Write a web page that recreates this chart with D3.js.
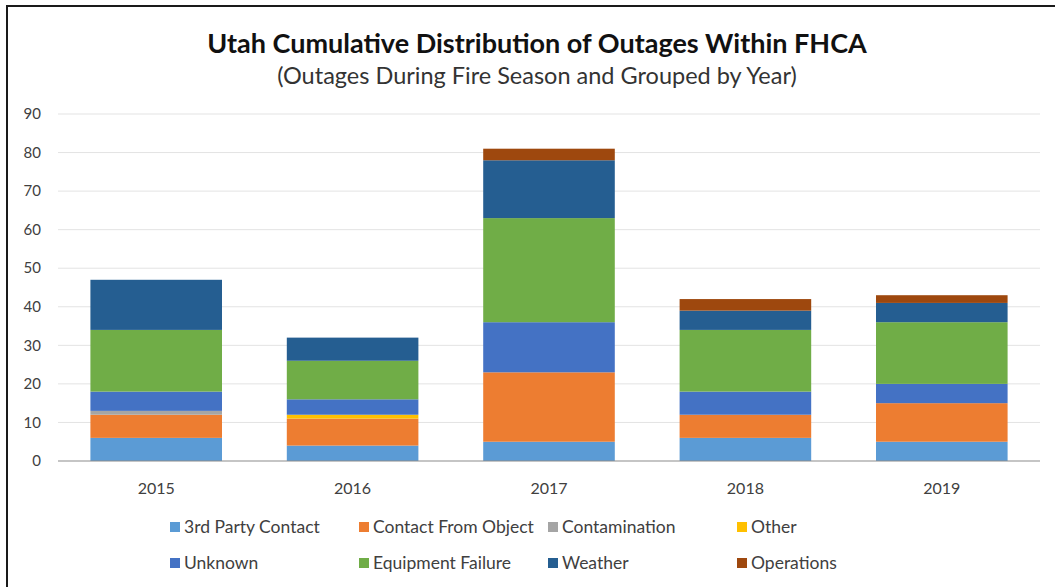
<!DOCTYPE html>
<html>
<head>
<meta charset="utf-8">
<script src="https://cdn.jsdelivr.net/npm/d3@7"></script>
<style>
  html, body { margin: 0; padding: 0; background: #fff; }
  svg { display: block; font-family: Lato, "Open Sans", sans-serif; }
</style>
</head>
<body>
<div id="chart"></div>
<script>
(function () {
  "use strict";

  var years = ["2015", "2016", "2017", "2018", "2019"];
  var causes = ["3rd Party Contact", "Contact From Object", "Contamination", "Other",
                "Unknown", "Equipment Failure", "Weather", "Operations"];
  var colors = ["#5b9bd5", "#ed7d31", "#a5a5a5", "#ffc000",
                "#4472c4", "#70ad47", "#255e91", "#9e480e"];

  // one list per cause, in year order
  var thirdParty    = [6, 4, 5, 6, 5];
  var fromObject    = [6, 7, 18, 6, 10];
  var contamination = [1, 0, 0, 0, 0];
  var other         = [0, 1, 0, 0, 0];
  var unknown       = [5, 4, 13, 6, 5];
  var equipment     = [16, 10, 27, 16, 16];
  var weather       = [13, 6, 15, 5, 5];
  var operations    = [0, 0, 3, 3, 2];
  var yTicks = [0, 10, 20, 30, 40, 50, 60, 70, 80, 90];

  var series = [thirdParty, fromObject, contamination, other, unknown, equipment, weather, operations];

  var W = 1055, H = 587;
  var m = { left: 58, right: 15, top: 114, bottom: 126 };

  var rows = years.map(function (y, i) {
    var r = { year: y };
    causes.forEach(function (c, k) { r[c] = series[k][i]; });
    return r;
  });
  var stacked = d3.stack().keys(causes)(rows);

  var svg = d3.select("#chart").append("svg")
    .attr("width", W).attr("height", H);

  // frame: only top and left edges show in the picture
  svg.append("line").attr("x1", 6).attr("x2", W).attr("y1", 6).attr("y2", 6)
    .attr("stroke", "#1a1a1a").attr("stroke-width", 2);
  svg.append("line").attr("x1", 7).attr("x2", 7).attr("y1", 5).attr("y2", H)
    .attr("stroke", "#1a1a1a").attr("stroke-width", 2);

  var x = d3.scaleBand().domain(years)
    .range([m.left, W - m.right]).paddingInner(0.33).paddingOuter(0.165);
  var y = d3.scaleLinear().domain([0, 90]).range([H - m.bottom, m.top]);

  // gridlines
  svg.append("g").selectAll("line").data(yTicks.slice(1)).join("line")
    .attr("x1", m.left).attr("x2", W - m.right)
    .attr("y1", function (d) { return y(d); }).attr("y2", function (d) { return y(d); })
    .attr("stroke", "#e3e3e3").attr("stroke-width", 1);

  // y labels
  svg.append("g").selectAll("text").data(yTicks).join("text")
    .attr("x", 41).attr("y", function (d) { return y(d); })
    .attr("dy", "0.35em").attr("text-anchor", "end")
    .attr("font-size", 15).attr("fill", "#404040")
    .text(function (d) { return d; });

  // bars
  svg.append("g").selectAll("g").data(stacked).join("g")
    .attr("fill", function (d, i) { return colors[i]; })
    .selectAll("rect").data(function (d) { return d; }).join("rect")
    .attr("x", function (d) { return x(d.data.year); })
    .attr("width", x.bandwidth())
    .attr("y", function (d) { return y(d[1]); })
    .attr("height", function (d) { return y(d[0]) - y(d[1]); });

  // baseline
  svg.append("line")
    .attr("x1", m.left).attr("x2", W - m.right)
    .attr("y1", y(0)).attr("y2", y(0))
    .attr("stroke", "#8c8c8c").attr("stroke-width", 1.2);

  // x labels
  svg.append("g").selectAll("text").data(years).join("text")
    .attr("x", function (d) { return x(d) + x.bandwidth() / 2; })
    .attr("y", 494).attr("text-anchor", "middle")
    .attr("font-size", 16).attr("fill", "#404040")
    .text(function (d) { return d; });

  // titles
  svg.append("text").attr("x", 537).attr("y", 53)
    .attr("text-anchor", "middle").attr("font-size", 27).attr("font-weight", "bold")
    .attr("fill", "#111").text("Utah Cumulative Distribution of Outages Within FHCA");
  svg.append("text").attr("x", 537).attr("y", 84)
    .attr("text-anchor", "middle").attr("font-size", 23.5)
    .attr("fill", "#333").text("(Outages During Fire Season and Grouped by Year)");

  // legend
  var leg = svg.append("g").selectAll("g").data(causes).join("g")
    .attr("transform", function (d, i) {
      return "translate(" + (170 + (i % 4) * 189) + "," + (527 + Math.floor(i / 4) * 36) + ")";
    });
  leg.append("rect").attr("x", 0).attr("y", -5).attr("width", 10).attr("height", 10)
    .attr("fill", function (d, i) { return colors[i]; });
  leg.append("text").attr("x", 14).attr("y", 0).attr("dy", "0.35em")
    .attr("font-size", 17.5).attr("fill", "#404040")
    .text(function (d) { return d; });
})();
</script>
</body>
</html>
